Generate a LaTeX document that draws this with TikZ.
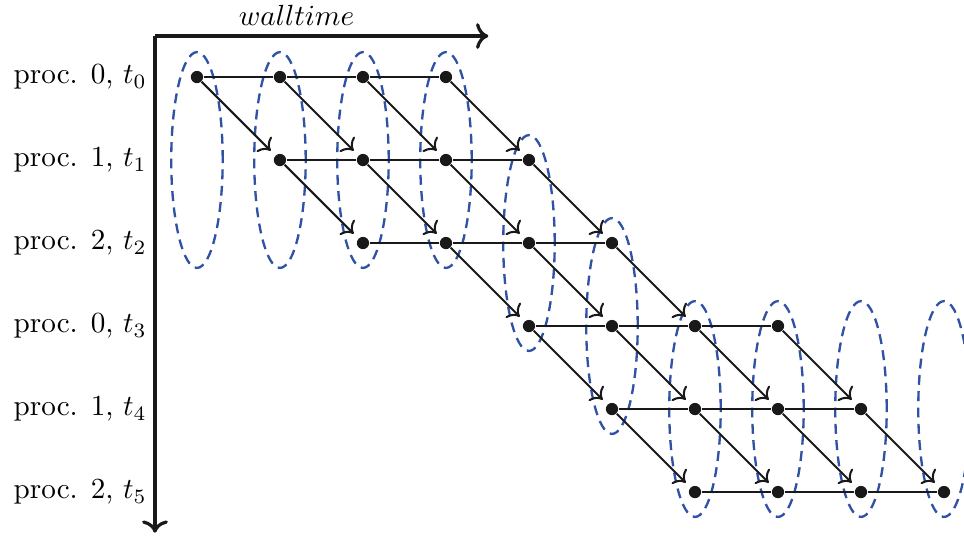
\documentclass[tikz,border=0pt]{standalone}
\usepackage{amsmath,amssymb}
\usepackage{xcolor}
\usepackage{tikz}
\usetikzlibrary{arrows.meta}

\definecolor{groupblue}{RGB}{48,82,165}

\begin{document}
\begin{tikzpicture}[scale=1.0,
  dot/.style={circle,fill=black!90,inner sep=0pt,minimum size=4.2pt},
  group/.style={draw=groupblue,thick,dash pattern=on 3.4pt off 2.2pt},
  link/.style={line width=0.7pt,black!90},
  axis/.style={-{To[scale=1.05]},line width=1.1pt,black!90}]

\useasboundingbox (-2.373,-5.518) rectangle (9.241,0.928);

% Axes
\coordinate (origin) at (-0.506,0.494);
\coordinate (tend) at (3.51,0.494);
\coordinate (pend) at (-0.506,-5.49);
\draw[axis] (origin) -- (tend);
\draw[axis] (origin) -- (pend);
\node (wall) at (1.2,0.74) {$walltime$};

% Row labels
\foreach \r/\p in {0/0,1/1,2/2,3/0,4/1,5/2}
  \node[anchor=east] (lab\r) at (-0.48,-\r) {proc. \p, $t_{\r}$};

% Groups of one time step
\foreach \c/\m in {0/1,1/1,2/1,3/1,4/2,5/3,6/4,7/4,8/4,9/4}
  \draw[group] (\c,-\m) ellipse (0.31 and 1.3);

% Points
\foreach \r/\s in {0/0,1/1,2/2,3/4,4/5,5/6}
  \foreach \c in {0,...,3} {
    \pgfmathtruncatemacro\k{\s+\c}
    \node[dot] (n-\r-\k) at (\k,-\r) {};
  }

% Lines along a row
\foreach \r/\s in {0/0,1/1,2/2,3/4,4/5,5/6}
  \foreach \c in {0,...,2} {
    \pgfmathtruncatemacro\k{\s+\c}
    \pgfmathtruncatemacro\kk{\k+1}
    \draw[link] (n-\r-\k) -- (n-\r-\kk);
  }

% Arrows to the next row
\foreach \r/\a/\b in {0/0/3,1/1/4,2/3/5,3/4/7,4/5/8}
  \foreach \k in {\a,...,\b} {
    \pgfmathtruncatemacro\rr{\r+1}
    \pgfmathtruncatemacro\kk{\k+1}
    \draw[link,-{To[scale=1.1]},shorten >=2.2pt] (n-\r-\k) -- (n-\rr-\kk);
  }

\end{tikzpicture}
\end{document}
